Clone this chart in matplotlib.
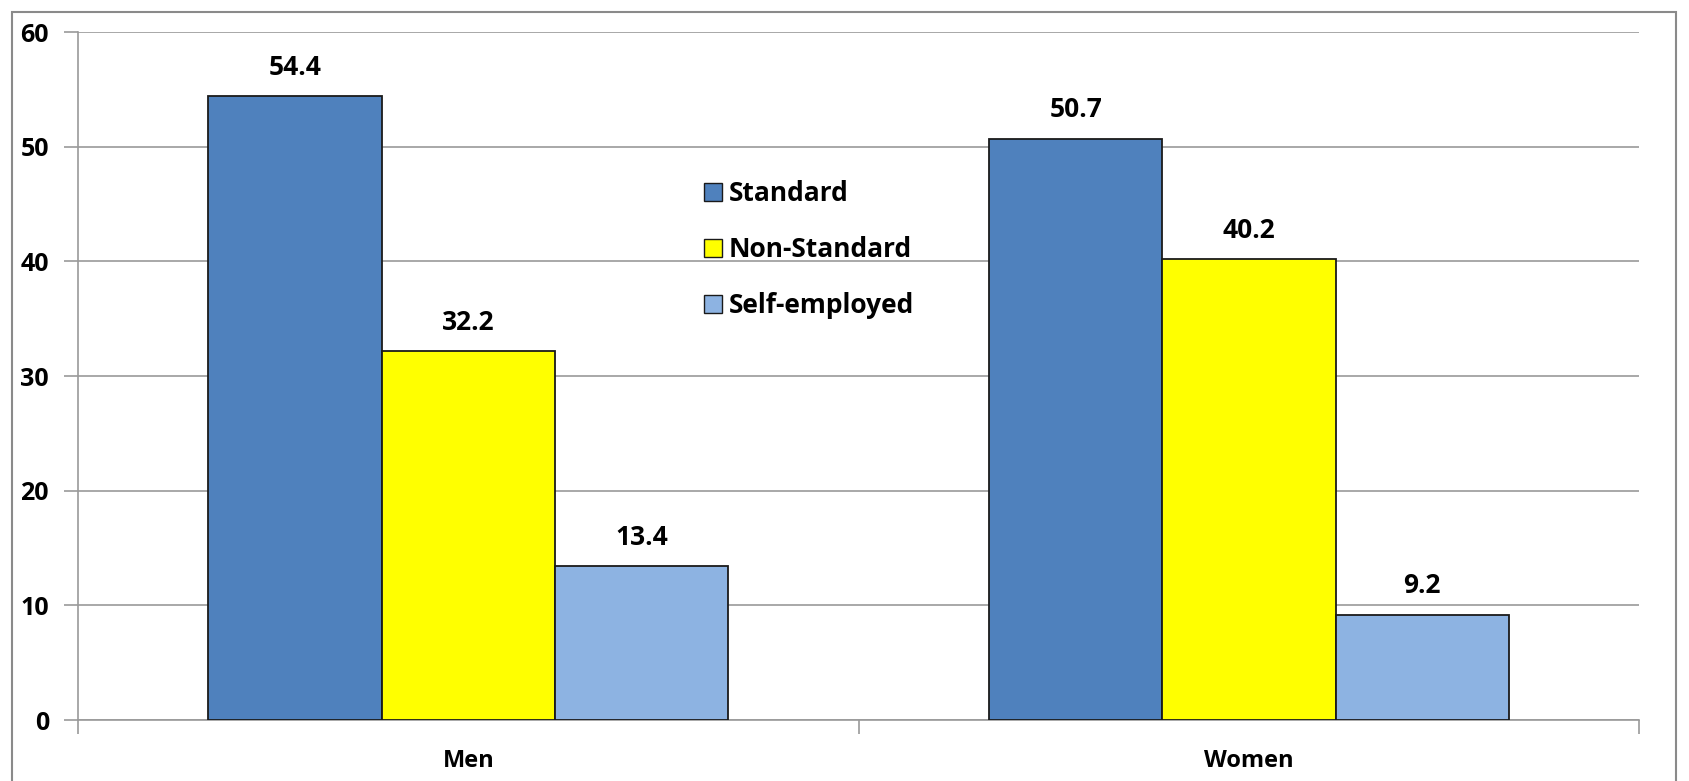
import numpy as np
import matplotlib
matplotlib.use('Agg')
import matplotlib.pyplot as plt
from matplotlib.patches import Rectangle

categories = ['Men', 'Women']
series = ['Standard', 'Non-Standard', 'Self-employed']
standard = [54.4, 50.7]
non_standard = [32.2, 40.2]
self_employed = [13.4, 9.2]
colors = ['#4F81BD', '#FFFF00', '#8DB3E2']

plt.rcParams['font.family'] = ['Open Sans', 'DejaVu Sans']
plt.rcParams['font.weight'] = 'bold'

f = plt.figure(figsize=(16.9, 7.81), dpi=100)
ax = f.add_axes([0.0462, 0.078, 0.9238, 0.881])

x = np.arange(len(categories))
w = 0.222
for i, (name, vals) in enumerate(zip(series, [standard, non_standard, self_employed])):
    pos = x + (i - 1) * w
    ax.bar(pos, vals, w, color=colors[i], edgecolor='#1a1a1a', linewidth=1.3,
           label=name, zorder=3)
    for p, v in zip(pos, vals):
        ax.annotate(f'{v:.1f}', (p, v), xytext=(0, 11), textcoords='offset points',
                    ha='center', va='bottom', fontsize=19, fontweight='bold')

ax.set_xlim(-0.5, 1.5)
ax.set_ylim(0, 60)
ax.set_yticks(range(0, 61, 10))
ax.yaxis.grid(True, color='#9a9a9a', linewidth=1.2, zorder=0)
for s in ['top', 'right']:
    ax.spines[s].set_visible(False)
for s in ['left', 'bottom']:
    ax.spines[s].set_color('#9a9a9a')
    ax.spines[s].set_linewidth(1.2)

# category ticks at the borders, labels in the middle
ax.set_xticks([-0.5, 0.5, 1.5])
ax.set_xticklabels([])
ax.set_xticks(x, minor=True)
ax.set_xticklabels(categories, minor=True, fontsize=17, fontweight='bold')
ax.tick_params(axis='x', which='major', length=10, color='#9a9a9a', width=1.2)
ax.tick_params(axis='x', which='minor', length=0, pad=21)
ax.tick_params(axis='y', length=10, color='#9a9a9a', width=1.2, labelsize=18, pad=11)
for t in ax.get_yticklabels():
    t.set_fontweight('bold')

leg = ax.legend(loc='upper left', bbox_to_anchor=(0.394, 0.80), frameon=False,
                fontsize=19, handlelength=0.7, handleheight=0.7, handletextpad=0.25,
                labelspacing=1.1, borderaxespad=0)
for h in leg.legend_handles:
    h.set_edgecolor('#1a1a1a')
    h.set_linewidth(1.0)

f.patches.append(Rectangle((12 / 1690, -0.05), 1664 / 1690, 1 - 12 / 781 + 0.05,
                           transform=f.transFigure, fill=False,
                           edgecolor='#8a8a8a', linewidth=1.5))

f.savefig('out.png', dpi=100)
